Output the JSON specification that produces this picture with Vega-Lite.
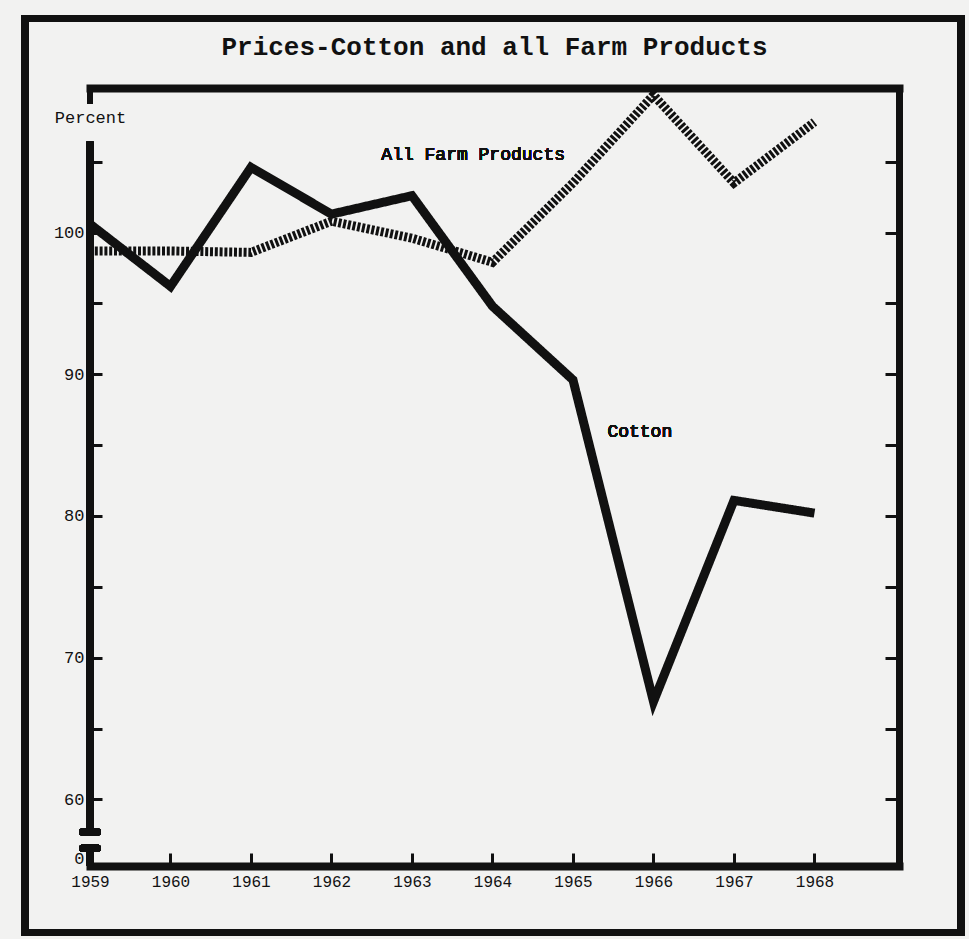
{
  "$schema": "https://vega.github.io/schema/vega-lite/v6.json",
  "width": 809,
  "height": 778,
  "autosize": "none",
  "padding": {"left": 90, "top": 88, "right": 70, "bottom": 73},
  "background": "#f2f2f1",
  "config": {"view": {"stroke": null}, "font": "Liberation Mono"},
  "title": {
    "text": "Prices-Cotton and all Farm Products",
    "font": "Liberation Mono",
    "fontSize": 26,
    "fontWeight": "bold",
    "color": "#111111",
    "anchor": "middle",
    "offset": -45
  },
  "data": {
    "values": [
      {"year": 1959, "series": "Cotton", "value": 100.6},
      {"year": 1960, "series": "Cotton", "value": 96.2},
      {"year": 1961, "series": "Cotton", "value": 104.6},
      {"year": 1962, "series": "Cotton", "value": 101.3},
      {"year": 1963, "series": "Cotton", "value": 102.6},
      {"year": 1964, "series": "Cotton", "value": 94.8},
      {"year": 1965, "series": "Cotton", "value": 89.6},
      {"year": 1966, "series": "Cotton", "value": 66.9},
      {"year": 1967, "series": "Cotton", "value": 81.1},
      {"year": 1968, "series": "Cotton", "value": 80.2},
      {"year": 1959, "series": "All Farm Products", "value": 98.7},
      {"year": 1960, "series": "All Farm Products", "value": 98.7},
      {"year": 1961, "series": "All Farm Products", "value": 98.6},
      {"year": 1962, "series": "All Farm Products", "value": 100.8},
      {"year": 1963, "series": "All Farm Products", "value": 99.6},
      {"year": 1964, "series": "All Farm Products", "value": 97.9},
      {"year": 1965, "series": "All Farm Products", "value": 103.5},
      {"year": 1966, "series": "All Farm Products", "value": 109.7},
      {"year": 1967, "series": "All Farm Products", "value": 103.5},
      {"year": 1968, "series": "All Farm Products", "value": 107.8}
    ]
  },
  "resolve": {"axis": {"x": "independent", "y": "independent"}},
  "layer": [
    {
      "mark": {"type": "line", "strokeWidth": 9, "color": "#111111", "strokeJoin": "miter"},
      "encoding": {
        "x": {
          "field": "year", "type": "quantitative",
          "scale": {"domain": [1959, 1969.05], "nice": false, "zero": false},
          "axis": {
            "orient": "bottom",
            "values": [1959, 1960, 1961, 1962, 1963, 1964, 1965, 1966, 1967, 1968],
            "format": "d",
            "title": null,
            "grid": false,
            "domainWidth": 8,
            "domainColor": "#111111",
            "domainCap": "square",
            "tickSize": -13,
            "tickWidth": 3,
            "tickColor": "#111111",
            "labelPadding": 20,
            "labelFontSize": 16,
            "labelFont": "Liberation Mono",
            "labelColor": "#111111",
            "labelOverlap": false,
            "labelFlush": false
          }
        },
        "y": {
          "field": "value", "type": "quantitative",
          "scale": {"domain": [55.3, 110.2], "nice": false, "zero": false},
          "axis": {
            "orient": "left",
            "values": [55.85, 60, 65, 70, 75, 80, 85, 90, 95, 100, 105],
            "format": "d",
            "labelExpr": "datum.value < 56 ? '0' : (datum.value % 10 == 0 ? datum.label : '')",
            "grid": false,
            "domain": false,
            "tickSize": -12,
            "tickWidth": 3,
            "tickColor": "#111111",
            "tickOpacity": {"condition": {"test": "datum.value < 56", "value": 0}, "value": 1},
            "labelPadding": 18,
            "labelFontSize": 17,
            "labelFont": "Liberation Mono",
            "labelColor": "#111111",
            "labelOverlap": false,
            "labelFlush": false,
            "title": "Percent",
            "titleAngle": 0,
            "titleX": 0,
            "titleY": 29,
            "titleAlign": "center",
            "titleBaseline": "middle",
            "titleFont": "Liberation Mono",
            "titleFontSize": 17,
            "titleFontWeight": "normal",
            "titleColor": "#111111"
          }
        },
        "strokeDash": {
          "field": "series", "type": "nominal",
          "scale": {"domain": ["Cotton", "All Farm Products"], "range": [[1, 0], [3, 1.8]]},
          "legend": null
        }
      }
    },
    {
      "mark": {"type": "line", "opacity": 0},
      "encoding": {
        "x": {
          "field": "year", "type": "quantitative",
          "axis": {"orient": "top", "ticks": false, "labels": false, "grid": false, "title": null, "domainWidth": 8, "domainColor": "#111111", "domainCap": "square"}
        },
        "y": {
          "field": "value", "type": "quantitative",
          "axis": {"orient": "right", "values": [60, 65, 70, 75, 80, 85, 90, 95, 100, 105], "labels": false, "grid": false, "title": null, "domainWidth": 7, "domainColor": "#111111", "domainCap": "square", "tickSize": -14, "tickWidth": 3, "tickColor": "#111111"}
        },
        "detail": {"field": "series", "type": "nominal"}
      }
    },
    {
      "mark": {"type": "rule", "strokeWidth": 7, "color": "#111111"},
      "encoding": {
        "x": {"datum": 1959, "axis": null},
        "y": {"datum": 57.75, "axis": null},
        "y2": {"datum": 106.4}
      }
    },
    {
      "mark": {"type": "rule", "strokeWidth": 7, "color": "#111111"},
      "encoding": {
        "x": {"datum": 1959, "axis": null},
        "y": {"datum": 55.3, "axis": null},
        "y2": {"datum": 56.5}
      }
    },
    {
      "mark": {"type": "rule", "strokeWidth": 6, "color": "#111111"},
      "encoding": {
        "x": {"datum": 1959, "axis": null},
        "y": {"datum": 109.1, "axis": null},
        "y2": {"datum": 110.2}
      }
    },
    {
      "mark": {"type": "tick", "orient": "horizontal", "size": 22, "thickness": 7, "cornerRadius": 3, "color": "#111111", "opacity": 1},
      "encoding": {
        "x": {"datum": 1959, "axis": null},
        "y": {"datum": 57.7, "axis": null}
      }
    },
    {
      "mark": {"type": "tick", "orient": "horizontal", "size": 22, "thickness": 7, "cornerRadius": 3, "color": "#111111", "opacity": 1},
      "encoding": {
        "x": {"datum": 1959, "axis": null},
        "y": {"datum": 56.55, "axis": null}
      }
    },
    {
      "mark": {"type": "text", "text": "All Farm Products", "font": "Liberation Mono", "fontSize": 18, "color": "#111111", "align": "center", "baseline": "middle"},
      "encoding": {
        "x": {"datum": 1963.76, "axis": null},
        "y": {"datum": 105.47, "axis": null}
      }
    },
    {
      "mark": {"type": "text", "text": "Cotton", "font": "Liberation Mono", "fontSize": 18, "color": "#111111", "align": "center", "baseline": "middle"},
      "encoding": {
        "x": {"datum": 1965.83, "axis": null},
        "y": {"datum": 85.92, "axis": null}
      }
    },
    {
      "mark": {"type": "rect", "filled": false, "stroke": "#111111", "strokeWidth": 7},
      "encoding": {
        "x": {"datum": 1958.19, "axis": null},
        "x2": {"datum": 1969.82},
        "y": {"datum": 115.1, "axis": null},
        "y2": {"datum": 50.6}
      }
    }
  ]
}
